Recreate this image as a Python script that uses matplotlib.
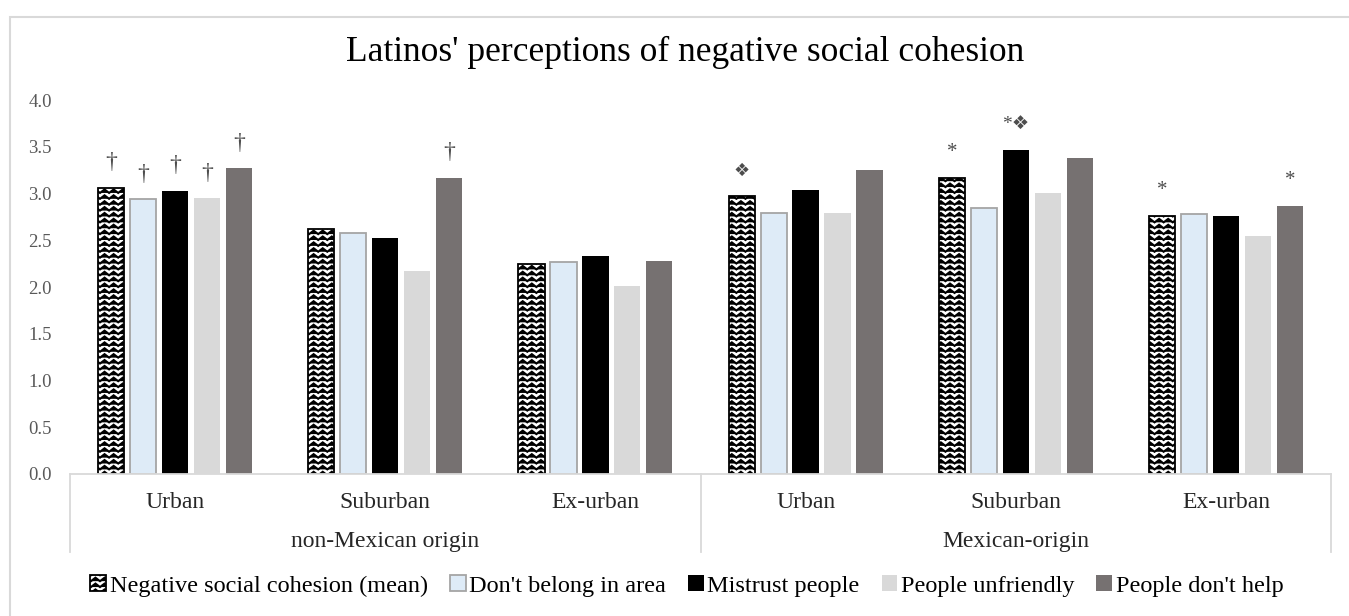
import warnings
import numpy as np
import matplotlib
matplotlib.use("Agg")
import matplotlib.pyplot as plt
import matplotlib.hatch as mhatch
from matplotlib.path import Path
from matplotlib.patches import Rectangle, Patch
from matplotlib.transforms import blended_transform_factory

warnings.filterwarnings("ignore")

# data
categories = ["Urban", "Suburban", "Ex-urban", "Urban", "Suburban", "Ex-urban"]
groups = ["non-Mexican origin", "Mexican-origin"]
series = ["Negative social cohesion (mean)", "Don't belong in area",
          "Mistrust people", "People unfriendly", "People don't help"]
neg_mean = [3.06, 2.62, 2.25, 2.97, 3.17, 2.76]
dont_belong = [2.94, 2.58, 2.27, 2.79, 2.84, 2.78]
mistrust = [3.03, 2.52, 2.33, 3.04, 3.47, 2.76]
unfriendly = [2.95, 2.17, 2.01, 2.79, 3.01, 2.55]
dont_help = [3.27, 3.17, 2.28, 3.25, 3.38, 2.87]
# (series index, category index, mark)
marks = [(0, 0, "†"), (1, 0, "†"), (2, 0, "†"), (3, 0, "†"), (4, 0, "†"),
         (4, 1, "†"), (0, 3, "❖"), (0, 4, "*"), (2, 4, "*❖"),
         (0, 5, "*"), (4, 5, "*")]
yticks = [0.0, 0.5, 1.0, 1.5, 2.0, 2.5, 3.0, 3.5, 4.0]


# zigzag fill like the excel pattern
class ZigzagHatch(mhatch.HatchPatternBase):
    rows = 17
    teeth = 11

    def __init__(self, hatch, density):
        self.on = "z" in hatch
        self.n = 2 * self.teeth + 1
        self.num_vertices = self.rows * self.n if self.on else 0

    def set_vertices_and_codes(self, vertices, codes):
        n = self.n
        xs = np.linspace(0, 1, n)
        for r in range(self.rows):
            y0 = (r + 0.2) / self.rows
            vertices[r * n:(r + 1) * n, 0] = xs
            vertices[r * n:(r + 1) * n, 1] = y0 + 0.035 * (np.arange(n) % 2)
            codes[r * n] = Path.MOVETO
            codes[r * n + 1:(r + 1) * n] = Path.LINETO


mhatch._hatch_types.append(ZigzagHatch)

plt.rcParams["font.family"] = ["Liberation Serif", "DejaVu Sans"]
plt.rcParams["hatch.linewidth"] = 1.5

values = [neg_mean, dont_belong, mistrust, unfriendly, dont_help]
faces = ["white", "#DEEBF7", "#000000", "#D9D9D9", "#767171"]
edges = ["black", "#A5A5A5", "none", "none", "none"]
hatches = ["z", None, None, None, None]
lws = [1.3, 1.3, 0, 0, 0]
mark_size = {"†": 17, "*": 15, "❖": 13, "*❖": 14}

fig = plt.figure(figsize=(13.49, 6.16), dpi=100)
ax = fig.add_axes([70 / 1349, 142 / 616, 1261 / 1349, 374 / 616])

x = np.arange(len(categories))
step = 0.152
width = 0.125
for k in range(5):
    ax.bar(x + (k - 2) * step, values[k], width, color=faces[k],
           edgecolor=edges[k], linewidth=lws[k], hatch=hatches[k])

for s, c, txt in marks:
    ax.annotate(txt, xy=(x[c] + (s - 2) * step, values[s][c]),
                xytext=(0, 25), textcoords="offset pixels",
                ha="center", va="center", fontsize=mark_size[txt],
                color="#4D4D4D")

ax.set_xlim(-0.5, 5.5)
ax.set_ylim(0, 4)
ax.set_yticks(yticks)
ax.set_yticklabels([f"{v:.1f}" for v in yticks])
ax.tick_params(axis="y", length=0, pad=13, labelsize=13.5, labelcolor="#595959")
ax.set_xticks([])
for side in ["left", "right", "top"]:
    ax.spines[side].set_visible(False)
ax.spines["bottom"].set_color("#D9D9D9")
ax.spines["bottom"].set_linewidth(1.3)

tr = blended_transform_factory(ax.transData, ax.transAxes)
for sx in [-0.5, 2.5, 5.5]:
    ax.plot([sx, sx], [0, -78 / 374], color="#D9D9D9", lw=1.3,
            transform=tr, clip_on=False)

for i, lab in enumerate(categories):
    ax.annotate(lab, xy=(x[i], 0), xycoords=("data", "axes fraction"),
                xytext=(0, -34), textcoords="offset pixels",
                ha="center", va="baseline", fontsize=17, color="#262626")
for g, lab in enumerate(groups):
    ax.annotate(lab, xy=(g * 3 + 1, 0), xycoords=("data", "axes fraction"),
                xytext=(0, -73), textcoords="offset pixels",
                ha="center", va="baseline", fontsize=17, color="#262626")

fig.text(685 / 1349, 1 - 52 / 616, "Latinos' perceptions of negative social cohesion",
         ha="center", va="center", fontsize=25.5, color="black")

handles = [Patch(facecolor=faces[k], edgecolor=edges[k], linewidth=lws[k],
                 hatch=hatches[k], label=series[k]) for k in range(5)]
fig.legend(handles=handles, loc="center", bbox_to_anchor=(687 / 1349, 1 - 586 / 616),
           ncol=5, frameon=False, fontsize=17.5, handlelength=0.65,
           handleheight=0.65, handletextpad=0.15, columnspacing=0.9,
           borderaxespad=0)

fig.patches.append(Rectangle((10 / 1349, -0.1), 1.2, 1.1 - 17 / 616,
                             transform=fig.transFigure, fill=False,
                             edgecolor="#D9D9D9", linewidth=1.5))

fig.savefig("out.png", dpi=100)
